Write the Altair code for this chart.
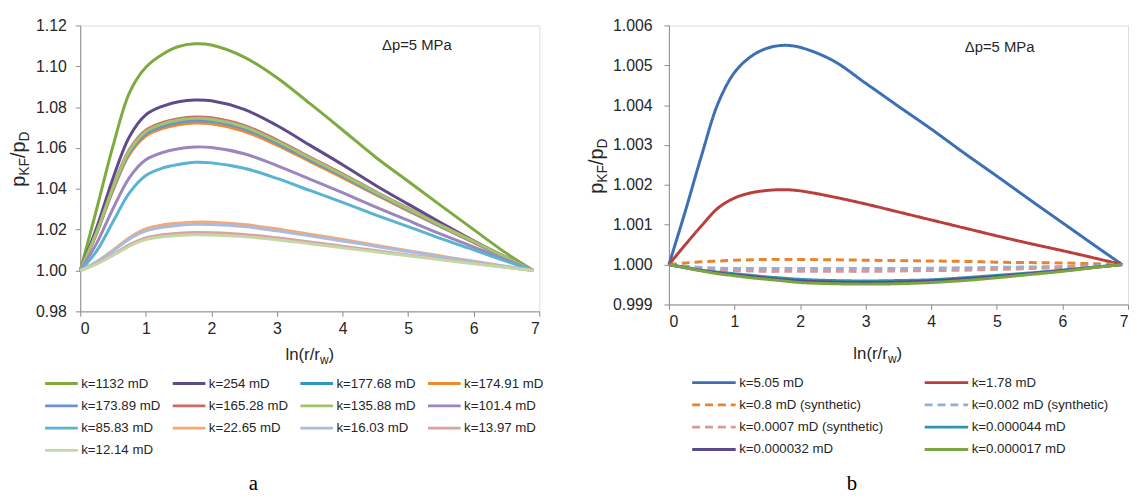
import altair as alt
import pandas as pd

FONT = "Liberation Sans"
SERIF = "Liberation Serif"
AXC = "#8C8C8C"
TXC = "#262626"

X = [0, 0.25, 0.5, 0.75, 1, 1.25, 1.5, 1.75, 2, 2.5, 3, 3.5, 4, 4.5, 5, 5.5, 6, 6.5, 6.91]

# ---------------- panel a ----------------
LEFT_NAMES = ["k=1132 mD", "k=254 mD", "k=177.68 mD", "k=174.91 mD", "k=173.89 mD",
              "k=165.28 mD", "k=135.88 mD", "k=101.4 mD", "k=85.83 mD", "k=22.65 mD",
              "k=16.03 mD", "k=13.97 mD", "k=12.14 mD"]
LEFT_COLORS = ["#7DAB3F", "#5F4A8B", "#2E97C0", "#F08A2E", "#6993D1", "#CF6A67", "#A2C46A",
               "#9B86BD", "#5AB3D0", "#F5A876", "#A8BCE0", "#D9A3A3", "#C3D8A6"]

k1132 = [1.0, 1.0300, 1.0610, 1.0870, 1.0995, 1.1058, 1.1097, 1.1110, 1.1104, 1.1045, 1.0944, 1.0818, 1.0688, 1.0556, 1.0437, 1.0318, 1.0200, 1.0084, 1.0]
k254 = [1.0, 1.0209, 1.0452, 1.0655, 1.0762, 1.0804, 1.0826, 1.0835, 1.0831, 1.0789, 1.0710, 1.0614, 1.0518, 1.0418, 1.0325, 1.0234, 1.0146, 1.0063, 1.0]
k177_68 = [1.0, 1.0185, 1.0402, 1.0582, 1.0676, 1.0712, 1.0732, 1.0740, 1.0736, 1.0699, 1.0629, 1.0548, 1.0466, 1.0381, 1.0300, 1.0218, 1.0141, 1.0063, 1.0]
k174_91 = [1.0, 1.0181, 1.0392, 1.0568, 1.0659, 1.0695, 1.0714, 1.0722, 1.0718, 1.0682, 1.0614, 1.0534, 1.0455, 1.0372, 1.0292, 1.0213, 1.0137, 1.0061, 1.0]
k173_89 = [1.0, 1.0183, 1.0398, 1.0576, 1.0669, 1.0705, 1.0725, 1.0733, 1.0729, 1.0693, 1.0623, 1.0542, 1.0462, 1.0377, 1.0297, 1.0216, 1.0139, 1.0062, 1.0]
k165_28 = [1.0, 1.0188, 1.0409, 1.0592, 1.0687, 1.0724, 1.0743, 1.0752, 1.0748, 1.0711, 1.0639, 1.0556, 1.0474, 1.0387, 1.0305, 1.0222, 1.0143, 1.0064, 1.0]
k135_88 = [1.0, 1.0186, 1.0405, 1.0586, 1.0680, 1.0717, 1.0737, 1.0745, 1.0741, 1.0704, 1.0633, 1.0551, 1.0469, 1.0384, 1.0302, 1.0220, 1.0142, 1.0063, 1.0]
k101_4 = [1.0, 1.0133, 1.0303, 1.0455, 1.0542, 1.0577, 1.0596, 1.0605, 1.0602, 1.0572, 1.0514, 1.0448, 1.0381, 1.0312, 1.0245, 1.0178, 1.0115, 1.0051, 1.0]
k85_83 = [1.0, 1.0095, 1.0239, 1.0380, 1.0465, 1.0501, 1.0519, 1.0530, 1.0527, 1.0501, 1.0451, 1.0392, 1.0334, 1.0273, 1.0215, 1.0156, 1.0101, 1.0045, 1.0]
k22_65 = [1.0, 1.0043, 1.0100, 1.0161, 1.0204, 1.0223, 1.0232, 1.0237, 1.0236, 1.0225, 1.0204, 1.0178, 1.0152, 1.0124, 1.0097, 1.0071, 1.0045, 1.0020, 1.0]
k16_03 = [1.0, 1.0041, 1.0095, 1.0154, 1.0194, 1.0212, 1.0221, 1.0226, 1.0225, 1.0215, 1.0194, 1.0170, 1.0145, 1.0119, 1.0093, 1.0068, 1.0043, 1.0019, 1.0]
k13_97 = [1.0, 1.0033, 1.0078, 1.0126, 1.0160, 1.0175, 1.0182, 1.0186, 1.0185, 1.0177, 1.0160, 1.0140, 1.0119, 1.0098, 1.0076, 1.0056, 1.0035, 1.0016, 1.0]
k12_14 = [1.0, 1.0032, 1.0074, 1.0119, 1.0151, 1.0165, 1.0172, 1.0175, 1.0174, 1.0166, 1.0151, 1.0131, 1.0112, 1.0092, 1.0072, 1.0053, 1.0033, 1.0015, 1.0]
LEFT_SERIES = [k1132, k254, k177_68, k174_91, k173_89, k165_28, k135_88, k101_4, k85_83,
               k22_65, k16_03, k13_97, k12_14]
LEFT_YTICKS = [0.98, 1.00, 1.02, 1.04, 1.06, 1.08, 1.10, 1.12]

# ---------------- panel b ----------------
RIGHT_NAMES = ["k=5.05 mD", "k=1.78 mD", "k=0.8 mD (synthetic)", "k=0.002 mD (synthetic)",
               "k=0.0007 mD (synthetic)", "k=0.000044 mD", "k=0.000032 mD", "k=0.000017 mD"]
RIGHT_COLORS = ["#3D6FB5", "#BA3E3C", "#E8832E", "#93AEDB", "#D89898", "#3294B4", "#5C4A8E", "#7BA63F"]
RIGHT_DASH = [[1, 0], [1, 0], [8, 5], [8, 5], [8, 5], [1, 0], [1, 0], [1, 0]]

k5_05 = [1.0, 1.00134, 1.00275, 1.00405, 1.00482, 1.00522, 1.00543, 1.0055, 1.00545, 1.00512, 1.00455, 1.00397, 1.0034, 1.0028, 1.00222, 1.00163, 1.00105, 1.00047, 1.0]
k1_78 = [1.0, 1.0005, 1.00098, 1.00142, 1.00167, 1.0018, 1.00186, 1.00188, 1.00185, 1.0017, 1.00152, 1.00132, 1.00112, 1.00092, 1.00072, 1.00053, 1.00035, 1.00016, 1.0]
k0_8 = [1.0, 1.00004, 1.00007, 1.00009, 1.00011, 1.00012, 1.00013, 1.00013, 1.00013, 1.00012, 1.00011, 1.0001, 1.00009, 1.00008, 1.00006, 1.00005, 1.00004, 1.00002, 1.0]
k0_002 = [1.0, 0.99996, 0.99993, 0.99991, 0.9999, 0.9999, 0.9999, 0.9999, 0.9999, 0.9999, 0.9999, 0.9999, 0.99991, 0.99992, 0.99993, 0.99994, 0.99995, 0.99997, 1.0]
k0_0007 = [1.0, 0.99994, 0.99989, 0.99986, 0.99985, 0.99984, 0.99983, 0.99983, 0.99983, 0.99983, 0.99983, 0.99984, 0.99985, 0.99986, 0.99988, 0.9999, 0.99992, 0.99995, 1.0]
k0_000044 = [1.0, 0.99993, 0.99986, 0.99981, 0.99977, 0.99973, 0.99969, 0.99966, 0.99963, 0.9996, 0.99959, 0.9996, 0.99962, 0.99967, 0.99973, 0.99979, 0.99986, 0.99994, 1.0]
k0_000032 = [1.0, 0.99992, 0.99985, 0.99979, 0.99974, 0.9997, 0.99966, 0.99962, 0.99959, 0.99956, 0.99955, 0.99956, 0.99959, 0.99964, 0.9997, 0.99977, 0.99985, 0.99993, 1.0]
k0_000017 = [1.0, 0.99992, 0.99984, 0.99977, 0.99972, 0.99967, 0.99963, 0.99959, 0.99955, 0.99952, 0.99951, 0.99952, 0.99955, 0.9996, 0.99967, 0.99975, 0.99983, 0.99993, 1.0]
RIGHT_SERIES = [k5_05, k1_78, k0_8, k0_002, k0_0007, k0_000044, k0_000032, k0_000017]
RIGHT_YTICKS = [0.999, 1.000, 1.001, 1.002, 1.003, 1.004, 1.005, 1.006]

X_TICKS = [0, 1, 2, 3, 4, 5, 6, 7]


def long_df(names, series):
    rows = []
    for i, (n, vals) in enumerate(zip(names, series)):
        for x, v in zip(X, vals):
            rows.append({"k": n, "x": x, "v": v, "i": i})
    return pd.DataFrame(rows)


def txt(s, x, y, size, angle=0, dx=0, dy=0, font=FONT, align="left", color=TXC):
    return alt.Chart(pd.DataFrame({"t": [s]})).mark_text(
        align=align, baseline="alphabetic", font=font, fontSize=size, angle=angle,
        dx=dx, dy=dy, color=color
    ).encode(x=alt.value(x), y=alt.value(y), text="t:N")


def x_axis():
    return alt.Axis(values=X_TICKS, format="d", title=None, grid=False, domainColor=AXC,
                    tickColor=AXC, tickSize=5, labelFont=FONT, labelFontSize=16,
                    labelColor=TXC, labelPadding=4)


def y_axis(vals, fmt, pad):
    return alt.Axis(values=vals, format=fmt, title=None, grid=False, domainColor=AXC,
                    tickColor=AXC, tickSize=5, labelFont=FONT, labelFontSize=16,
                    labelColor=TXC, labelPadding=pad)


def y_title(xb, ymid):
    # p_KF / p_D rotated, pieces laid out along the rotated baseline
    start = ymid + 28
    return [
        txt("p", xb, start, 20, angle=270, dx=0),
        txt("KF", xb, start, 14, angle=270, dx=11.1, dy=4),
        txt("/", xb, start, 20, angle=270, dx=29.0),
        txt("p", xb, start, 20, angle=270, dx=34.6),
        txt("D", xb, start, 14, angle=270, dx=45.7, dy=4),
    ]


def x_title(xc, yb):
    start = xc - 24.6
    return [
        txt("ln(r/r", start, yb, 17),
        txt("w", start + 34.9, yb, 12, dy=4),
        txt(")", start + 43.6, yb, 17),
    ]


def legend(x, y, cols, size, colpad):
    return alt.Legend(orient="none", legendX=x, legendY=y, columns=cols, direction="horizontal",
                      title=None, symbolType="stroke", symbolSize=size, symbolStrokeWidth=3,
                      labelFont=FONT, labelFontSize=13.4, labelColor=TXC, rowPadding=8.5,
                      columnPadding=colpad, clipHeight=14, labelOffset=2, padding=0,
                      labelLimit=400)


# ---------------- build panel a ----------------
LW, LH = 464, 289
left_df = long_df(LEFT_NAMES, LEFT_SERIES)
left_lines = alt.Chart(left_df).mark_line(strokeWidth=3, interpolate="catmull-rom").encode(
    x=alt.X("x:Q", scale=alt.Scale(domain=[0, 7], nice=False, zero=False), axis=x_axis()),
    y=alt.Y("v:Q", scale=alt.Scale(domain=[0.98, 1.12], nice=False, zero=False),
            axis=y_axis(LEFT_YTICKS, ".2f", 9)),
    color=alt.Color("k:N", scale=alt.Scale(domain=LEFT_NAMES, range=LEFT_COLORS),
                    legend=legend(-37, 355, 4, 1089, 10)),
    detail="i:O",
)
left = alt.layer(
    left_lines,
    *y_title(-56, 135),
    *x_title(LW / 2, 338),
    txt("\u0394p=5 MPa", 305, 25, 15),
    txt("a", 175, 470, 21, font=SERIF, align="center", color="#000000"),
).properties(width=LW, height=LH)

# ---------------- build panel b ----------------
RW, RH = 464, 282
right_df = long_df(RIGHT_NAMES, RIGHT_SERIES)
right_lines = alt.Chart(right_df).mark_line(strokeWidth=3, interpolate="catmull-rom").encode(
    x=alt.X("x:Q", scale=alt.Scale(domain=[0, 7], nice=False, zero=False), axis=x_axis()),
    y=alt.Y("v:Q", scale=alt.Scale(domain=[0.999, 1.006], nice=False, zero=False),
            axis=y_axis(RIGHT_YTICKS, ".3f", 12)),
    color=alt.Color("k:N", scale=alt.Scale(domain=RIGHT_NAMES, range=RIGHT_COLORS),
                    legend=legend(22, 354, 2, 1936, 40)),
    strokeDash=alt.StrokeDash("k:N", scale=alt.Scale(domain=RIGHT_NAMES, range=RIGHT_DASH),
                              legend=legend(22, 354, 2, 1936, 40)),
    detail="i:O",
)
right = alt.layer(
    right_lines,
    *y_title(-67, 142),
    *x_title(211, 337),
    txt("\u0394p=5 MPa", 299, 27, 15),
    txt("b", 185, 470, 21, font=SERIF, align="center", color="#000000"),
).properties(width=RW, height=RH)

chart = alt.hconcat(left, right, spacing=41).resolve_scale(
    color="independent", strokeDash="independent", x="independent", y="independent"
).properties(
    padding={"left": 0, "top": 6, "right": 0, "bottom": 0}
).configure_view(stroke=None).configure(background="#FFFFFF")

chart.save("out.html", embed_options={"renderer": "svg", "actions": False})
